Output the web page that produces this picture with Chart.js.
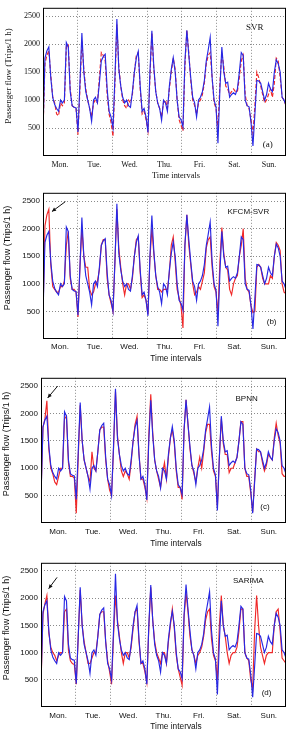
<!DOCTYPE html>
<html>
<head>
<meta charset="utf-8">
<script src="https://cdn.jsdelivr.net/npm/chart.js@4.4.1/dist/chart.umd.min.js"></script>
<style>
  body { margin: 0; background: #fff; width: 288px; height: 737px; overflow: hidden; }
  canvas { position: absolute; left: 0; }
</style>
</head>
<body>
<canvas id="c0" width="288" height="185" style="top:0"></canvas>
<canvas id="c1" width="288" height="185" style="top:185px"></canvas>
<canvas id="c2" width="288" height="185" style="top:370px"></canvas>
<canvas id="c3" width="288" height="182" style="top:555px"></canvas>
<script>
// 18 hourly intervals per day, one week
const days = ["Mon.", "Tue.", "Wed.", "Thu.", "Fri.", "Sat.", "Sun."];
const perDay = 18;
const yTicks = [500, 1000, 1500, 2000, 2500];

const actual = [
  450, 1750, 1880, 1950, 1400, 1050, 920, 850, 800, 1000, 950, 1000, 2030, 1950, 1150, 900, 870, 860,
  430, 1300, 2200, 1500, 1150, 1000, 850, 620, 1000, 1050, 950, 1300, 1700, 1780, 1820, 1200, 800, 700,
  500, 1400, 2450, 1550, 1250, 1050, 950, 1000, 900, 870, 1150, 1500, 1750, 1870, 1250, 800, 850, 700,
  420, 1500, 2240, 1600, 1150, 950, 850, 640, 1000, 950, 800, 1250, 1550, 1760, 1500, 1000, 700, 650,
  520, 1700, 2250, 1800, 1400, 1050, 950, 700, 1000, 1050, 1150, 1350, 1700, 1900, 2120, 1400, 1000, 880,
  230, 1200, 1950, 1500, 1300, 1320, 1050, 1100, 1130, 1100, 1200, 1500, 1850, 1800, 1000, 900, 880, 600,
  180, 750, 1350, 1340, 1300, 1150, 1000, 1100, 1300, 1200, 1150, 1500, 1720, 1650, 1500, 1050, 1000, 900
];
const svr = [
  420, 1650, 1800, 1880, 1450, 1050, 950, 750, 720, 950, 900, 950, 1950, 2000, 1200, 900, 870, 850,
  380, 1200, 2050, 1550, 1200, 1000, 850, 700, 950, 1000, 950, 1400, 1850, 1800, 1700, 1100, 750, 600,
  350, 1300, 2350, 1600, 1250, 1000, 900, 850, 1000, 950, 1100, 1500, 1800, 1850, 1200, 750, 800, 650,
  450, 1400, 2200, 1550, 1150, 950, 850, 700, 950, 1000, 850, 1200, 1500, 1750, 1550, 1000, 650, 550,
  450, 1600, 2250, 1850, 1350, 1000, 900, 750, 950, 1000, 1100, 1300, 1650, 1800, 1850, 1400, 950, 850,
  500, 1300, 1850, 1600, 1250, 1200, 1100, 1150, 1200, 1150, 1150, 1400, 1700, 1800, 1100, 900, 850, 650,
  400, 900, 1500, 1400, 1250, 1100, 950, 1000, 1100, 1200, 1050, 1300, 1750, 1700, 1400, 1050, 1000, 900
];
const kfcmSvr = [
  450, 2050, 2250, 2350, 1350, 950, 900, 850, 850, 950, 950, 1050, 1700, 1950, 1100, 900, 900, 850,
  400, 1300, 2000, 1500, 1300, 1300, 900, 800, 850, 1000, 1050, 1250, 1700, 1800, 1800, 1100, 800, 650,
  500, 1400, 2350, 1650, 1300, 1000, 800, 1000, 1000, 900, 1100, 1500, 1800, 1850, 1200, 750, 800, 700,
  450, 1450, 2000, 1550, 1150, 900, 900, 850, 900, 900, 900, 1200, 1700, 1850, 1400, 900, 750, 600,
  200, 1700, 2250, 1700, 1350, 1000, 800, 850, 950, 900, 1050, 1200, 1650, 1800, 1850, 1300, 950, 850,
  450, 1400, 2020, 1550, 1300, 1250, 900, 800, 1000, 1100, 1150, 1500, 1700, 2000, 1100, 900, 850, 600,
  480, 500, 1300, 1350, 1300, 1100, 1000, 1000, 1000, 1150, 1100, 1500, 1750, 1700, 1600, 1000, 850, 820
];
const bpnn = [
  500, 1750, 1900, 2230, 1350, 1000, 900, 750, 700, 850, 1000, 1000, 1900, 1950, 1100, 850, 850, 820,
  180, 1200, 2150, 1500, 1150, 1000, 850, 750, 1300, 1000, 950, 1300, 1700, 1750, 1750, 1150, 800, 600,
  500, 1350, 2400, 1600, 1250, 950, 850, 950, 900, 800, 1100, 1500, 1800, 1950, 1250, 800, 800, 650,
  450, 1600, 2350, 1650, 1150, 950, 800, 650, 900, 1100, 800, 1200, 1550, 1700, 1450, 950, 650, 650,
  430, 1700, 2250, 1800, 1350, 1050, 900, 750, 1000, 1200, 1000, 1300, 1650, 1800, 1800, 1300, 950, 850,
  300, 1200, 1900, 1450, 1250, 1250, 920, 1000, 1000, 1100, 1200, 1500, 1850, 1850, 1000, 850, 850, 550,
  200, 800, 1350, 1300, 1300, 1100, 950, 1050, 1250, 1200, 1150, 1550, 1820, 1600, 1450, 900, 850, 850
];
const sarima = [
  400, 1700, 1900, 2050, 1350, 1100, 1000, 950, 850, 950, 1000, 1000, 1750, 1800, 1050, 850, 800, 780,
  420, 1300, 2150, 1500, 1200, 1000, 800, 800, 900, 1000, 1000, 1300, 1700, 1750, 1750, 1200, 850, 650,
  420, 1300, 2050, 1600, 1300, 1000, 800, 1000, 1000, 900, 1100, 1450, 1750, 1800, 1200, 800, 800, 650,
  450, 1450, 2200, 1600, 1200, 1000, 900, 800, 1000, 1000, 800, 1200, 1500, 1800, 1450, 950, 700, 550,
  400, 1650, 2100, 1750, 1300, 1050, 950, 800, 950, 1000, 1100, 1300, 1600, 1750, 1800, 1250, 950, 850,
  500, 1500, 2050, 1500, 1300, 1000, 800, 950, 1000, 1000, 1100, 1400, 1800, 1800, 1000, 900, 850, 500,
  350, 1400, 2050, 1500, 1100, 950, 800, 950, 1000, 1000, 1000, 1500, 1750, 1800, 1400, 900, 850, 800
];

const lastX = actual.length - 1;
const blue = 'rgb(40,40,228)', red = 'rgb(240,40,40)';

const panels = [
  { id: 'c0', pred: svr, dashed: true, font: 'Liberation Serif', top: 5, bottom: 156, left: 43, h: 185,
    name: 'SVR', nameAt: [108.9, 2288], tag: '(a)', tagAt: [115.6, 200], arrow: null,
    labelPad: 4, xTitleY: 176, yTitle: [8.3, 76] },
  { id: 'c1', pred: kfcmSvr, dashed: false, font: 'Liberation Sans', top: 4, bottom: 154, left: 43, h: 185,
    name: 'KFCM-SVR', nameAt: [105.6, 2308], tag: '(b)', tagAt: [117.6, 320], arrow: [11.5, 2490, 4.6, 2310],
    labelPad: 3, xTitleY: 174, yTitle: [7.3, 73] },
  { id: 'c2', pred: bpnn, dashed: false, font: 'Liberation Sans', top: 4, bottom: 153, left: 41, h: 185,
    name: 'BPNN', nameAt: [104.9, 2265], tag: '(c)', tagAt: [114.3, 294], arrow: [8.5, 2500, 3.4, 2282],
    labelPad: 4, xTitleY: 173.5, yTitle: [6.5, 74] },
  { id: 'c3', pred: sarima, dashed: false, font: 'Liberation Sans', top: 3, bottom: 152, left: 41, h: 182,
    name: 'SARIMA', nameAt: [105.8, 2311], tag: '(d)', tagAt: [115.1, 268], arrow: [8.2, 2382, 3.9, 2175],
    labelPad: 3.5, xTitleY: 171.5, yTitle: [6.5, 73] }
];

// day boundaries and label centres on the x scale
const bounds = days.slice(1).map((_, i) => (i + 1) * perDay - 0.5);
const centres = days.map((_, i) => (Math.max(i * perDay - 0.5, 0) + Math.min((i + 1) * perDay - 0.5, lastX)) / 2);

const decor = {
  id: 'decor',
  afterDraw(chart, args, o) {
    const { ctx, chartArea: a, scales: { x, y } } = chart;
    ctx.save();
    ctx.strokeStyle = '#000';
    ctx.lineWidth = 1;
    ctx.strokeRect(a.left + 0.5, a.top + 0.5, a.right - a.left - 1, a.bottom - a.top - 1);
    ctx.fillStyle = '#111';
    ctx.textAlign = 'center';
    ctx.textBaseline = 'middle';
    ctx.font = (o.font.includes('Serif') ? '9px ' : '8px ') + '"' + o.font + '"';
    ctx.fillText(o.name, x.getPixelForValue(o.nameAt[0]), y.getPixelForValue(o.nameAt[1]));
    ctx.fillText(o.tag, x.getPixelForValue(o.tagAt[0]), y.getPixelForValue(o.tagAt[1]));
    ctx.font = '8.3px "' + o.font + '"';
    ctx.fillText('Time intervals', 176, o.xTitleY);
    if (o.arrow) {
      const [tx, ty, hx, hy] = o.arrow;
      const x1 = x.getPixelForValue(tx), y1 = y.getPixelForValue(ty);
      const x2 = x.getPixelForValue(hx), y2 = y.getPixelForValue(hy);
      const ang = Math.atan2(y2 - y1, x2 - x1);
      ctx.strokeStyle = '#111';
      ctx.beginPath(); ctx.moveTo(x1, y1); ctx.lineTo(x2, y2); ctx.stroke();
      ctx.beginPath();
      ctx.moveTo(x2, y2);
      ctx.lineTo(x2 - 4.5 * Math.cos(ang - 0.45), y2 - 4.5 * Math.sin(ang - 0.45));
      ctx.lineTo(x2 - 4.5 * Math.cos(ang + 0.45), y2 - 4.5 * Math.sin(ang + 0.45));
      ctx.closePath(); ctx.fill();
    }
    ctx.translate(o.yTitle[0], o.yTitle[1]);
    ctx.rotate(-Math.PI / 2);
    ctx.font = '9px "' + o.font + '"';
    ctx.fillText('Passenger flow (Trips/1 h)', 0, 0);
    ctx.restore();
  }
};

panels.forEach(p => {
  const pts = arr => arr.map((v, i) => ({ x: i, y: v }));
  new Chart(document.getElementById(p.id), {
    type: 'line',
    data: {
      datasets: [
        { data: pts(actual), borderColor: blue, borderWidth: 1.15, pointRadius: 0, tension: 0 },
        { data: pts(p.pred), borderColor: red, borderWidth: 1.15, pointRadius: 0, tension: 0,
          borderDash: p.dashed ? [4, 2] : [] }
      ]
    },
    options: {
      responsive: false,
      animation: false,
      events: [],
      layout: { padding: { top: p.top, right: 2, left: 0, bottom: 0 } },
      plugins: {
        legend: { display: false },
        tooltip: { enabled: false },
        decor: p
      },
      scales: {
        x: {
          type: 'linear', min: 0, max: lastX,
          afterBuildTicks: s => { s.ticks = bounds.concat(centres).sort((a, b) => a - b).map(v => ({ value: v })); },
          afterFit: s => { s.height = p.h - p.bottom; },
          ticks: {
            autoSkip: false, maxRotation: 0, padding: p.labelPad, color: '#111',
            font: { family: p.font, size: 8 },
            callback: v => { const i = centres.indexOf(v); return i >= 0 ? days[i] : ''; }
          },
          grid: {
            drawTicks: false, lineWidth: 1,
            color: c => (c.tick && bounds.includes(c.tick.value)) ? '#8a8a8a' : 'rgba(0,0,0,0)'
          },
          border: { display: false, dash: [1, 2] }
        },
        y: {
          min: 0, max: 2650,
          afterBuildTicks: s => { s.ticks = yTicks.map(v => ({ value: v })); },
          afterFit: s => { s.width = p.left; },
          ticks: { padding: 3, color: '#111', font: { family: p.font, size: 8 }, callback: v => String(v) },
          grid: { drawTicks: false, color: '#8a8a8a', lineWidth: 1 },
          border: { display: false, dash: [1, 2] }
        }
      }
    },
    plugins: [decor]
  });
});
</script>
</body>
</html>
